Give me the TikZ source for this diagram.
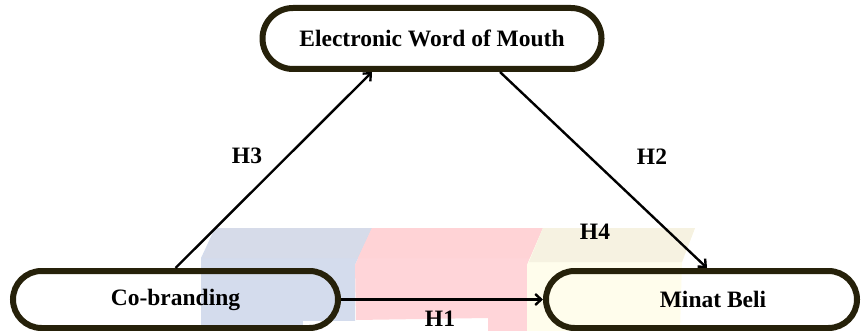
\documentclass[tikz,border=0pt]{standalone}
\usepackage{fontspec}
\setmainfont{Liberation Serif}
\usetikzlibrary{shapes.misc,arrows.meta,calc}

\definecolor{edgedark}{RGB}{38,33,10}
\definecolor{wmblue}{RGB}{212,220,237}
\definecolor{wmbluetop}{RGB}{214,219,233}
\definecolor{wmpink}{RGB}{255,213,217}
\definecolor{wmpinktop}{RGB}{255,211,214}
\definecolor{wmcream}{RGB}{255,253,236}
\definecolor{wmcreamtop}{RGB}{246,242,225}

\tikzset{
  varbox/.style={rounded rectangle, draw=edgedark, line width=6pt,
    inner sep=0pt, font=\fontsize{23.5}{28}\selectfont\bfseries},
  hyp/.style={font=\fontsize{23.5}{28}\selectfont\bfseries, inner sep=0pt},
  link/.style={line width=2.4pt, -{Straight Barb[length=6pt,width=11pt,line width=2.4pt]}}
}

\begin{document}
\begin{tikzpicture}[x=1pt,y=-1pt]
  \useasboundingbox (0,0) rectangle (861,331);

  % faint watermark blocks behind the diagram
  \fill[wmblue] (215,228) -- (372,228) -- (355,265) -- (355,331)
    -- (201,331) -- (201,258) -- cycle;
  \fill[wmbluetop] (215,228) -- (372,228) -- (358,258) -- (203,258) -- cycle;
  \fill[white] (303,321) rectangle (356,331);
  \fill[wmpink] (372,228) -- (543,228) -- (527,265) -- (527,331) -- (488,331)
    -- (488,318) -- (356,320) -- (355,265) -- cycle;
  \fill[wmpinktop] (372,228) -- (543,228) -- (530,258) -- (358,258) -- cycle;
  \fill[wmcream] (543,228) -- (695,228) -- (682,262) -- (680,331) -- (527,331)
    -- (527,265) -- cycle;
  \fill[wmcreamtop] (543,228) -- (695,228) -- (682,262) -- (529,262) -- cycle;

  % variables
  \node[varbox, minimum width=339pt, minimum height=61pt] (ewom) at (432,38.5)
    {Electronic Word of Mouth};
  \node[varbox, minimum width=325pt, minimum height=57pt] (cb) at (175.5,299.5)
    {Co-branding};
  \node[varbox, minimum width=311pt, minimum height=57pt] (mb) at (701.5,299.5)
    {\hspace*{23pt}Minat Beli};

  % hypothesised paths
  \draw[link] (cb.north) -- ($(ewom.south)+(-60,0)$);
  \draw[link] ($(ewom.south)+(68,0)$) -- ($(mb.north)+(5.5,0)$);
  \draw[link] (cb.east) -- (mb.west);

  % path labels
  \node[hyp] (h3) at (247,155.5) {H3};
  \node[hyp] (h2) at (652,156.5) {H2};
  \node[hyp] (h4) at (595,231.5) {H4};
  \node[hyp] (h1) at (440,319) {H1};
\end{tikzpicture}
\end{document}
